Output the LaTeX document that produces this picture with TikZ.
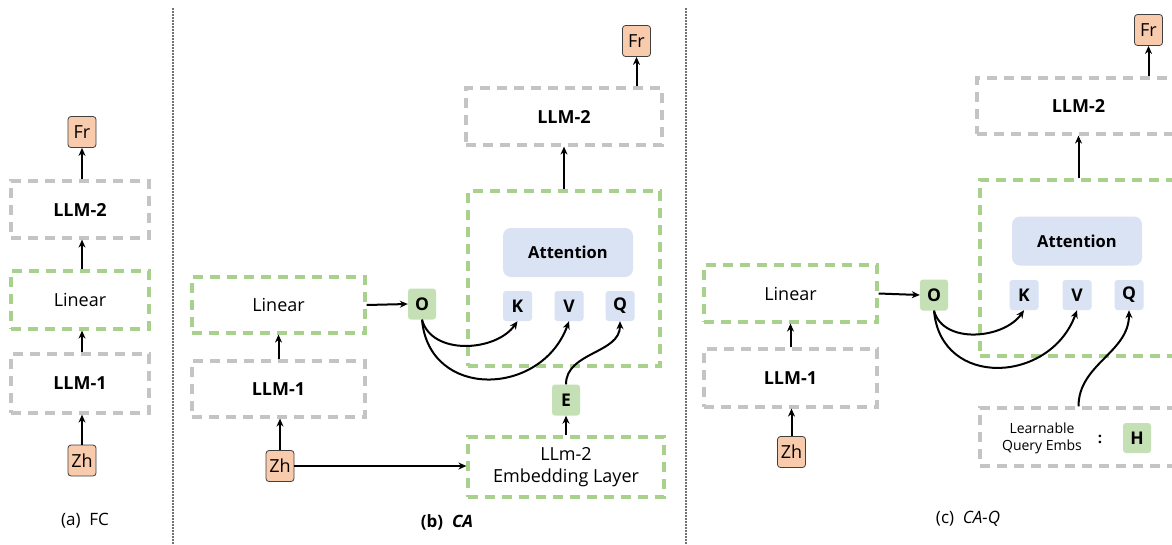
\documentclass[tikz,border=0pt]{standalone}
\usepackage{fontspec}
\setmainfont{Open Sans}
\usetikzlibrary{arrows.meta}
\definecolor{gdash}{HTML}{A9D18E}
\definecolor{greydash}{HTML}{C4C4C4}
\definecolor{gfill}{HTML}{C5E0B4}
\definecolor{bfill}{HTML}{DAE3F3}
\definecolor{ofill}{HTML}{F8CBAD}
\tikzset{
  txt/.style={font=\fontsize{18}{22}\selectfont},
  btxt/.style={font=\bfseries\fontsize{17.5}{22}\selectfont},
  greenbox/.style={draw=gdash, line width=3.2pt, dash pattern=on 10pt off 7pt, inner sep=0pt, align=center, txt},
  greybox/.style={draw=greydash, line width=3.2pt, dash pattern=on 10pt off 7pt, inner sep=0pt, align=center, txt},
  tok/.style={fill=gfill, rounded corners=3pt, minimum width=28pt, minimum height=31pt, inner sep=0pt, btxt},
  kvq/.style={fill=bfill, rounded corners=3pt, minimum width=29pt, minimum height=30pt, inner sep=0pt, btxt},
  attn/.style={fill=bfill, rounded corners=8pt, minimum width=130pt, minimum height=49pt, inner sep=0pt, font=\bfseries\fontsize{16.5}{20}\selectfont},
  lang/.style={draw=black!75, fill=ofill, rounded corners=3pt, line width=0.8pt, minimum width=28pt, minimum height=31pt, inner sep=0pt, txt},
  arr/.style={-{Stealth[length=8pt,width=7pt]}, line width=2pt},
  sep/.style={draw=black!55, line width=1.5pt, dash pattern=on 1.5pt off 1.5pt},
  captxt/.style={font=\fontsize{17}{20}\selectfont},
}
\begin{document}
\begin{tikzpicture}[x=1pt,y=-1pt]
\useasboundingbox (0,0) rectangle (1172,544);
\fill[white] (0,0) rectangle (1172,544);

% separators
\draw[sep] (173,8) -- (173,544);
\draw[sep] (686,8) -- (686,544);

% ---------------- (a) FC
\node[lang] (aFr) at (82,132) {Fr};
\node[greybox, minimum width=138pt, minimum height=57pt] (aL2) at (80,209.5) {\bfseries LLM-2};
\node[greenbox, minimum width=138pt, minimum height=58pt] (aLin) at (80,300) {Linear};
\node[greybox, minimum width=138pt, minimum height=59pt] (aL1) at (80,383.5) {\bfseries LLM-1};
\node[lang] (aZh) at (82,460.5) {Zh};
\node[captxt] (aCap) at (85,521) {(a)\ \ FC};
\draw[arr, line width=1.5pt] (aZh.north) -- (aZh.north |- aL1.south);
\draw[arr, line width=1.5pt] (aL1.north -| aZh.north) -- (aZh.north |- aLin.south);
\draw[arr, line width=1.5pt] (aLin.north -| aZh.north) -- (aZh.north |- aL2.south);
\draw[arr, line width=1.5pt] (aL2.north -| aZh.north) -- (aFr.south);

% ---------------- (b) CA
\node[lang] (bFr) at (636.5,41) {Fr};
\node[greybox, minimum width=196pt, minimum height=57pt] (bL2) at (564,116.5) {\bfseries LLM-2};
\node[greenbox, minimum width=192pt, minimum height=175pt] (bOuter) at (564,278.5) {};
\node[attn] (bAttn) at (568,252.5) {Attention};
\node[kvq] (bK) at (517.5,306) {K};
\node[kvq] (bV) at (569,306) {V};
\node[kvq] (bQ) at (620,306) {Q};
\node[tok] (bO) at (422,304) {O};
\node[greenbox, minimum width=173pt, minimum height=56pt] (bLin) at (278.5,305) {Linear};
\node[greybox, minimum width=173pt, minimum height=56pt] (bL1) at (278.5,389) {\bfseries LLM-1};
\node[lang] (bZh) at (280,466) {Zh};
\node[tok] (bE) at (566,400) {E};
\node[greenbox, minimum width=196pt, minimum height=60pt] (bEmb) at (566,467) {LLm-2\\Embedding Layer};
\node[captxt] (bCap) at (447,522) {\bfseries (b)\ \ \itshape CA};

\draw[arr] (bFr.south |- bL2.north) -- (bFr.south);
\draw[arr] (bOuter.north) -- (bL2.south);
\draw[arr] (bLin.east) -- (bO.west);
\draw[arr] (bL1.north) -- (bLin.south);
\draw[arr] (bZh.north) -- (bZh.north |- bL1.south);
\draw[arr] (bZh.east) -- (bZh.east -| bEmb.west);
\draw[arr] (bEmb.north) -- (bE.south);
\draw[arr] (bO.south) to[out=-75,in=-125] (bK.south);
\draw[arr] (bO.south) to[out=-85,in=-110,looseness=1.4] (bV.south);
\draw[arr] (bE.north) to[out=90,in=-90] (bQ.south);

% ---------------- (c) CA-Q
\node[lang] (cFr) at (1148.5,30) {Fr};
\node[greybox, minimum width=203pt, minimum height=56pt] (cL2) at (1078.5,106) {\bfseries LLM-2};
\node[greenbox, minimum width=197pt, minimum height=176pt] (cOuter) at (1078.5,268) {};
\node[attn] (cAttn) at (1077,241) {Attention};
\node[kvq] (cK) at (1024,295) {K};
\node[kvq] (cV) at (1077,295) {V};
\node[kvq] (cQ) at (1129,295) {Q};
\node[tok] (cO) at (934,295) {O};
\node[greenbox, minimum width=173pt, minimum height=57pt] (cLin) at (790.5,293.5) {Linear};
\node[greybox, minimum width=173pt, minimum height=58pt] (cL1) at (790.5,378) {\bfseries LLM-1};
\node[lang] (cZh) at (791.5,452) {Zh};
\node[greybox, minimum width=197pt, minimum height=58pt] (cQry) at (1078.5,437) {};
\node[font=\fontsize{14}{17}\selectfont, align=center] (cLearn) at (1042,438) {Learnable\\Query Embs};
\node[font=\bfseries\fontsize{15}{16}\selectfont] (cColon) at (1100,439) {:};
\node[tok, minimum height=30pt] (cH) at (1137,438) {H};
\node[captxt] (cCap) at (968,519) {(c)\ \ \itshape CA-Q};

\draw[arr] (cFr.south |- cL2.north) -- (cFr.south);
\draw[arr] (cOuter.north) -- (cL2.south);
\draw[arr] (cLin.east) -- (cO.west);
\draw[arr] (cL1.north) -- (cLin.south);
\draw[arr] (cZh.north) -- (cZh.north |- cL1.south);
\draw[arr] (cO.south) to[out=-75,in=-125] (cK.south);
\draw[arr] (cO.south) to[out=-85,in=-110,looseness=1.4] (cV.south);
\draw[arr] (cQry.north) to[out=90,in=-90] (cQ.south);
\end{tikzpicture}
\end{document}
